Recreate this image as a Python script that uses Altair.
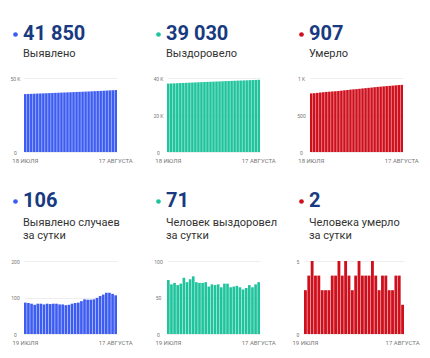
import altair as alt
import pandas as pd

BLUE = "#3d5cf2"
GREEN = "#1fc49c"
RED = "#cf0f1c"
NAVY = "#173a80"
FONT = "Roboto"

# categories (days)
days_top = [f"{d} ИЮЛЯ" for d in range(18, 32)] + [f"{d} АВГУСТА" for d in range(1, 18)]
days_bottom = days_top[1:]

# cumulative series (18 July - 17 August)
cum_cases = [39142, 39228, 39313, 39396, 39476, 39559, 39642, 39723, 39806, 39888,
             39971, 40054, 40135, 40216, 40295, 40375, 40458, 40543, 40629, 40719,
             40814, 40908, 41002, 41097, 41196, 41300, 41408, 41521, 41634, 41744, 41850]
cum_recovered = [36975, 37049, 37117, 37187, 37254, 37323, 37400, 37471, 37546, 37625,
                 37696, 37766, 37836, 37907, 37972, 38040, 38107, 38175, 38239, 38308,
                 38377, 38441, 38506, 38572, 38636, 38697, 38760, 38827, 38891, 38959, 39030]
cum_deaths = [792, 795, 799, 804, 808, 812, 815, 818, 821, 825,
              829, 834, 838, 843, 847, 850, 854, 859, 863, 867,
              871, 876, 880, 883, 887, 891, 894, 897, 901, 905, 907]

# daily series (19 July - 17 August)
daily_cases = [86, 85, 83, 80, 83, 83, 81, 83, 82, 83,
               83, 81, 81, 79, 80, 83, 85, 86, 90, 95,
               94, 94, 95, 99, 104, 108, 113, 113, 110, 106]
daily_recovered = [74, 68, 70, 67, 69, 77, 71, 75, 79, 71,
                   70, 70, 71, 65, 68, 67, 68, 64, 69, 69,
                   64, 65, 66, 64, 61, 63, 67, 64, 68, 71]
daily_deaths = [3, 4, 5, 4, 4, 3, 3, 3, 4, 4,
                5, 4, 5, 4, 3, 4, 5, 4, 4, 4,
                5, 4, 3, 4, 4, 3, 3, 4, 4, 2]

totals = [41850, 39030, 907, 106, 71, 2]
labels = ["Выявлено", "Выздоровело", "Умерло",
          "Выявлено случаев\nза сутки", "Человек выздоровел\nза сутки", "Человека умерло\nза сутки"]

LABEL_EXPR = "datum.value >= 1000 ? (datum.value / 1000) + ' K' : datum.value + ''"


def fmt(v):
    return f"{v:,}".replace(",", " ")


def panel(days, values, color, ymax, ticks, total, label, width, height,
          num_dx, num_y, lab_y, x_start=0, ylab_pad=9):
    df = pd.DataFrame({"day": days, "value": values})
    if x_start:
        xscale = alt.Scale(paddingInner=0.15, paddingOuter=0, range=[x_start, width])
    else:
        xscale = alt.Scale(paddingInner=0.15, paddingOuter=0)
    bars = alt.Chart(df).mark_bar(color=color).encode(
        x=alt.X("day:N", sort=days, scale=xscale,
                axis=alt.Axis(values=[days[0], days[-1]], title=None, labelAngle=0,
                              ticks=False, domain=False, grid=False,
                              labelFontSize=6, labelColor="#777", labelFont=FONT,
                              labelPadding=5)),
        y=alt.Y("value:Q",
                scale=alt.Scale(domain=[0, ymax], nice=False),
                axis=alt.Axis(values=ticks, title=None, labelExpr=LABEL_EXPR,
                              ticks=False, tickSize=0, domain=False,
                              labelFontSize=5, labelColor="#777", labelFont=FONT,
                              labelAlign="center", labelPadding=ylab_pad,
                              gridColor="#eeeeee")),
    )
    head = pd.DataFrame({"num": [fmt(total)], "label": [label]})
    base = alt.Chart(head)
    dot = base.mark_circle(color=color, size=22, opacity=1).encode(
        x=alt.value(num_dx - 7.5), y=alt.value(num_y - 5.5))
    num = base.mark_text(align="left", baseline="alphabetic", font=FONT, fontSize=20,
                         fontWeight="bold", color=NAVY).encode(
        x=alt.value(num_dx), y=alt.value(num_y), text="num:N")
    lab = base.mark_text(align="left", baseline="alphabetic", font=FONT, fontSize=11,
                         color="#333333", lineBreak="\n", lineHeight=13).encode(
        x=alt.value(num_dx), y=alt.value(lab_y), text="label:N")
    return alt.layer(bars, dot, num, lab).properties(width=width, height=height)


p1 = panel(days_top, cum_cases, BLUE, 50000, [0, 50000], totals[0], labels[0], 93, 74, -1, -38, -21.5)
p2 = panel(days_top, cum_recovered, GREEN, 40000, [0, 20000, 40000], totals[1], labels[1], 93, 74, -1, -38, -21.5)
p3 = panel(days_top, cum_deaths, RED, 1000, [0, 500, 1000], totals[2], labels[2], 93, 74, -1, -38, -21.5)
p4 = panel(days_bottom, daily_cases, BLUE, 200, [0, 100, 200], totals[3], labels[3], 93, 73, -1, -54, -35)
p5 = panel(days_bottom, daily_recovered, GREEN, 100, [0, 50, 100], totals[4], labels[4], 93, 73, -1, -54, -35)
p6 = panel(days_bottom, daily_deaths, RED, 5, [0, 5], totals[5], labels[5], 94, 73, -1, -54, -35,
           x_start=-6, ylab_pad=12.5)

chart = alt.concat(
    p1, p2, p3, p4, p5, p6,
    columns=3,
    spacing=alt.RowColnumber(row=109, column=50),
    bounds="flush",
).configure_view(
    strokeWidth=0
).properties(
    padding={"left": 2, "top": 16, "right": 0, "bottom": 0},
    background="white",
)

chart.save("out.html", embed_options={"renderer": "svg", "actions": False})
